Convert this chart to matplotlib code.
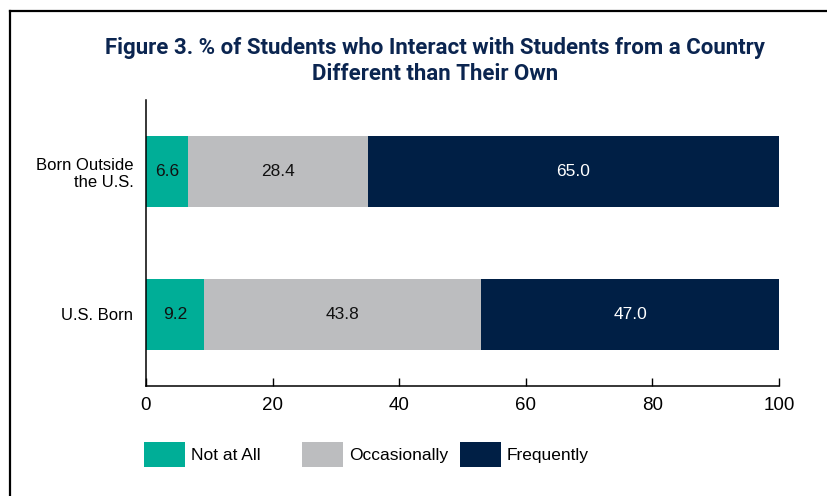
import matplotlib.pyplot as plt
from matplotlib.lines import Line2D
from matplotlib.patches import Patch

# Survey shares (%) by birthplace
groups = ["U.S. Born", "Born Outside\nthe U.S."]
not_at_all = [9.2, 6.6]
occasionally = [43.8, 28.4]
frequently = [47.0, 65.0]
series_names = ["Not at All", "Occasionally", "Frequently"]
colors = ["#00ae97", "#bcbdbf", "#001f45"]
text_colors = ["#111111", "#111111", "#ffffff"]

plt.rcParams['font.family'] = ['Liberation Sans', 'DejaVu Sans']

fig = plt.figure(figsize=(8.28, 4.96), dpi=100)
ax = fig.add_axes([0.1763, 0.2218, 0.7645, 0.5766])

left = [0.0] * len(groups)
for vals, col, tcol in zip([not_at_all, occasionally, frequently], colors, text_colors):
    bars = ax.barh(range(len(groups)), vals, left=left, height=0.5, color=col)
    ax.bar_label(bars, labels=[f"{v:.1f}" for v in vals], label_type="center",
                 color=tcol, fontsize=12.5)
    left = [l + v for l, v in zip(left, vals)]

ax.set_xlim(0, 100)
ax.set_ylim(-0.5, 1.5)
ax.set_xticks([0, 20, 40, 60, 80, 100])
ax.set_yticks(range(len(groups)))
ax.set_yticklabels(groups, fontsize=12, ha="right")
ax.tick_params(axis="x", direction="in", length=6, width=1, labelsize=13.5, pad=8)
ax.tick_params(axis="y", length=0, pad=9)
for side in ["top", "right"]:
    ax.spines[side].set_visible(False)
for side in ["left", "bottom"]:
    ax.spines[side].set_linewidth(1.1)

fig.text(0.525, 0.877, "Figure 3. % of Students who Interact with Students from a Country\nDifferent than Their Own",
         ha="center", va="center", fontsize=16, fontweight="bold", color="#0b2550",
         family=["Roboto", "DejaVu Sans"], linespacing=1.2)

# one legend entry per column, placed at fixed spots
for name, col, x0 in zip(series_names, colors, [144, 302, 460]):
    fig.legend([Patch(facecolor=col, edgecolor="none")], [name], loc="lower left",
               bbox_to_anchor=(x0 / 828, 29 / 496), frameon=False, fontsize=12.5,
               handlelength=2.35, handleheight=1.8, handletextpad=0.35,
               borderpad=0, borderaxespad=0)

# outer frame (left and top edges)
fig.add_artist(Line2D([9.5 / 828, 9.5 / 828], [0, 1 - 11 / 496], transform=fig.transFigure,
                      color="black", linewidth=1.6))
fig.add_artist(Line2D([9.5 / 828, 1], [1 - 11 / 496, 1 - 11 / 496], transform=fig.transFigure,
                      color="black", linewidth=1.6))

fig.savefig("out.png", dpi=100)
